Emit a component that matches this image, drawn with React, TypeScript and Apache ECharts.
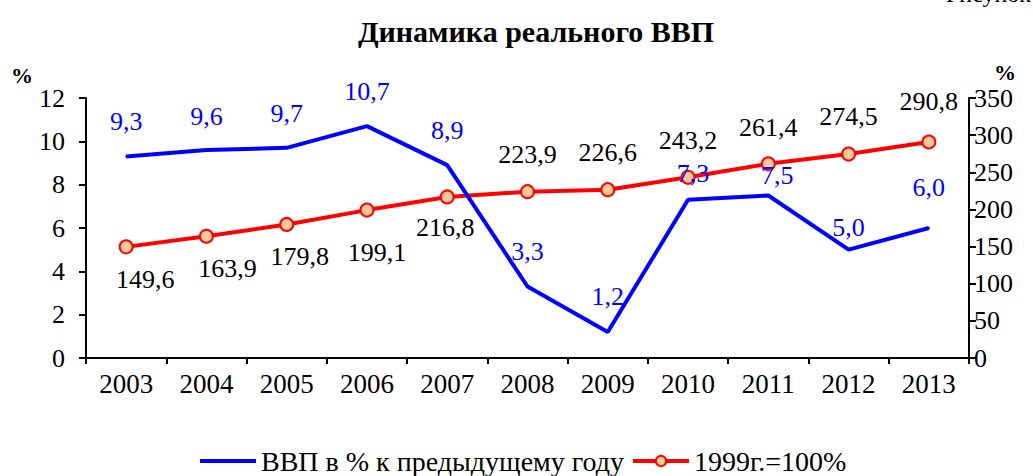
import React, { useEffect, useRef } from "react";
import * as echarts from "echarts";

const years = ["2003", "2004", "2005", "2006", "2007", "2008", "2009", "2010", "2011", "2012", "2013"];
const gdpGrowth = [9.3, 9.6, 9.7, 10.7, 8.9, 3.3, 1.2, 7.3, 7.5, 5.0, 6.0];
const gdpIndex = [149.6, 163.9, 179.8, 199.1, 216.8, 223.9, 226.6, 243.2, 261.4, 274.5, 290.8];
const indexLabelPos = ["bottom", "bottom", "bottom", "bottom", "bottom", "top", "top", "top", "top", "top", "top"];
const seriesNames = ["ВВП в % к предыдущему году", "1999г.=100%"];
const titleText = "Динамика реального ВВП";

// label placement tweaks (distance from point, horizontal shift)
const growthLabelDist = [21, 20, 20, 21, 21, 21, 22, 12, 6, 8, 27];
const growthLabelShift = [0, 0, 0, 0, 0, 0, 0, 5, 9, 0, 0];
const indexLabelDist = [12, 12, 12, 22, 10, 17, 17, 16, 16, 17, 20];
const indexLabelShift = [19, 21, 13, 10, -2, 0, 0, 0, 0, 0, 0];

const FONT = "Liberation Serif";
const fmt = (v: number) => v.toFixed(1).replace(".", ",");

export default function App() {
  const ref = useRef<HTMLDivElement>(null);
  useEffect(() => {
    if (!ref.current) return;
    const chart = echarts.init(ref.current, null, { renderer: "svg" });
    chart.setOption({
      animation: false,
      backgroundColor: "#ffffff",
      textStyle: { fontFamily: FONT },
      title: {
        text: titleText,
        left: 531,
        textAlign: "center",
        top: 11,
        textStyle: { fontFamily: FONT, fontSize: 30, fontWeight: "bold", color: "#000" },
      },
      graphic: [
        { type: "text", left: 11, top: 64, style: { text: "%", fontFamily: FONT, fontSize: 22, fontWeight: "bold", fill: "#000" } },
        { type: "text", left: 994, top: 61, style: { text: "%", fontFamily: FONT, fontSize: 22, fontWeight: "bold", fill: "#000" } },
        { type: "text", x: 946, y: -18, style: { text: "Рисунок 1", fontFamily: FONT, fontSize: 24, fill: "#000" } },
      ],
      legend: {
        data: [
          { name: seriesNames[0], itemStyle: { opacity: 0 }, lineStyle: { width: 4, color: "#0000ff" } },
          { name: seriesNames[1], lineStyle: { width: 4, color: "#ff0000" } },
        ],
        left: 193,
        top: 442,
        itemWidth: 56,
        itemHeight: 13,
        itemGap: 7,
        textStyle: { fontFamily: FONT, fontSize: 28, color: "#000" },
      },
      grid: { left: 86, right: 64, top: 98, bottom: 118 },
      xAxis: {
        type: "category",
        data: years,
        boundaryGap: true,
        axisLine: { lineStyle: { color: "#000", width: 2 } },
        axisTick: { show: true, length: 6, lineStyle: { color: "#000", width: 2 } },
        axisLabel: { color: "#000", fontSize: 27, fontFamily: FONT, margin: 12 },
      },
      yAxis: [
        {
          type: "value",
          min: 0,
          max: 12,
          interval: 2,
          axisLine: { show: true, lineStyle: { color: "#000", width: 2 } },
          axisTick: { show: true, length: 7, lineStyle: { color: "#000", width: 2 } },
          axisLabel: { color: "#000", fontSize: 26, fontFamily: FONT, margin: 21 },
          splitLine: { show: false },
        },
        {
          type: "value",
          min: 0,
          max: 350,
          interval: 50,
          position: "right",
          axisLine: { show: true, lineStyle: { color: "#000", width: 2 } },
          axisTick: { show: true, length: 7, lineStyle: { color: "#000", width: 2 } },
          axisLabel: { color: "#000", fontSize: 26, fontFamily: FONT, margin: 5 },
          splitLine: { show: false },
        },
      ],
      series: [
        {
          name: seriesNames[1],
          type: "line",
          yAxisIndex: 1,
          z: 2,
          data: gdpIndex.map((v, i) => ({
            value: v,
            label: { position: indexLabelPos[i], distance: indexLabelDist[i], offset: [indexLabelShift[i], 0] },
          })),
          lineStyle: { color: "#ff0000", width: 4 },
          symbol: "circle",
          symbolSize: 13,
          itemStyle: { color: "#f9c89b", borderColor: "#ff0000", borderWidth: 2 },
          label: {
            show: true,
            color: "#000",
            fontSize: 26,
            fontFamily: FONT,
            formatter: (p: any) => fmt(p.value),
          },
        },
        {
          name: seriesNames[0],
          type: "line",
          yAxisIndex: 0,
          z: 3,
          data: gdpGrowth.map((v, i) => ({
            value: v,
            label: { distance: growthLabelDist[i], offset: [growthLabelShift[i], 0] },
          })),
          lineStyle: { color: "#0000ff", width: 4 },
          symbol: "circle",
          symbolSize: 2,
          itemStyle: { color: "#0000ff" },
          label: {
            show: true,
            position: "top",
            color: "#0000ff",
            fontSize: 26,
            fontFamily: FONT,
            formatter: (p: any) => fmt(p.value),
          },
        },
      ],
    });
    return () => chart.dispose();
  }, []);
  return (
    <div
      ref={ref}
      style={{ position: "fixed", left: 0, top: 0, width: 1033, height: 476, background: "#fff" }}
    />
  );
}
